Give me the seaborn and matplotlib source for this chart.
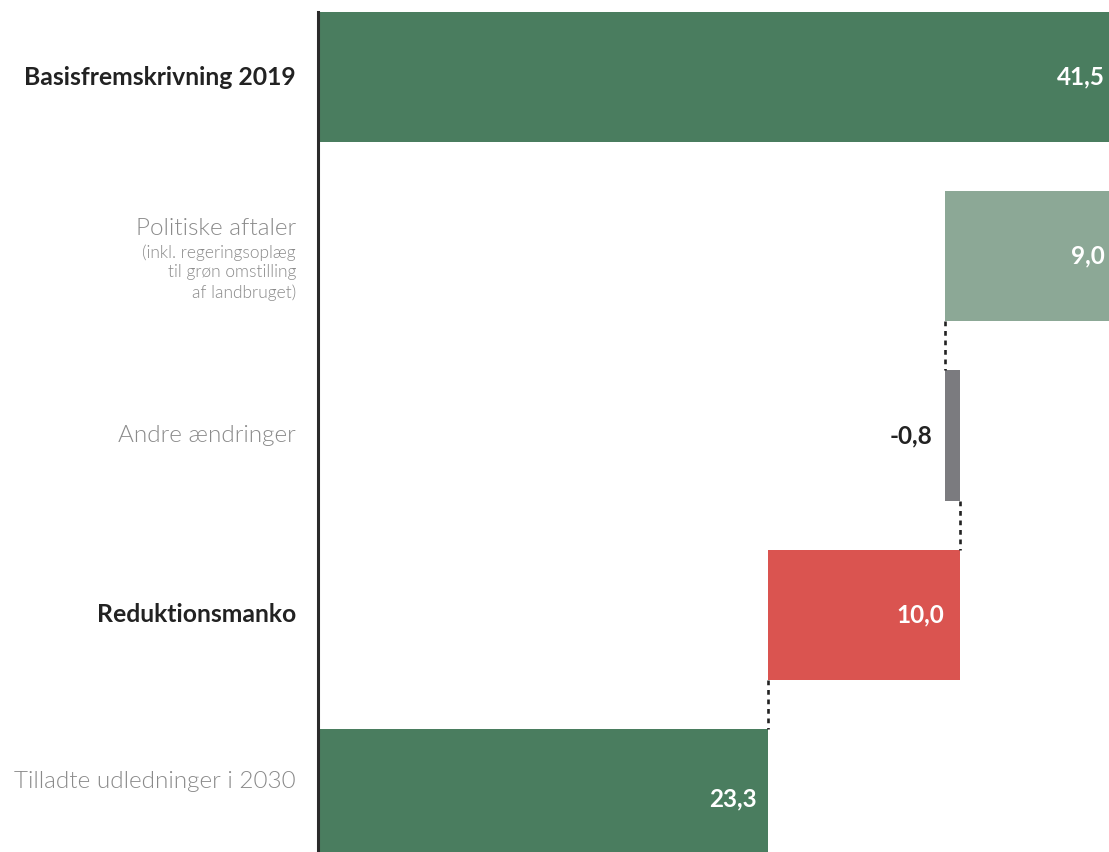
import matplotlib
matplotlib.use("Agg")
import matplotlib.pyplot as plt
import matplotlib.transforms as mtransforms
import seaborn as sns
import pandas as pd

# Waterfall data (Mio. ton CO2e)
categories = ["Basisfremskrivning 2019", "Politiske aftaler", "Andre ændringer",
              "Reduktionsmanko", "Tilladte udledninger i 2030"]
starts = [0.0, 32.5, 32.5, 23.3, 0.0]
ends = [41.5, 41.5, 33.3, 33.3, 23.3]
value_labels = ["41,5", "9,0", "-0,8", "10,0", "23,3"]
colors = ["#4a7d5f", "#8ca896", "#7b7b7f", "#da5450", "#4a7d5f"]

df = pd.DataFrame({"category": categories, "start": starts, "end": ends,
                   "label": value_labels, "color": colors})
df["width"] = df["end"] - df["start"]

sns.set_style("white")
plt.rcParams["font.family"] = ["Lato", "DejaVu Sans"]

fig = plt.figure(figsize=(11.09, 8.52), dpi=100)
ax = fig.add_axes([318 / 1109, 0, 791 / 1109, 840 / 852])

bar_h = 0.726
ypos = list(range(len(df)))
ax.barh(ypos, df["width"], left=df["start"], height=bar_h, color=df["color"], linewidth=0)

# dotted connectors between consecutive bars
conn_x = [None, 32.5, 33.3, 23.3]
for i in range(1, len(conn_x)):
    ax.plot([conn_x[i], conn_x[i]], [i + bar_h / 2, i + 1 - bar_h / 2],
            color="#222222", lw=1.9, linestyle=(0, (1.8, 1.8)), solid_capstyle="butt")

ax.set_xlim(0, 41.0)
ax.set_ylim(4.324, -0.363)
ax.set_xticks([])
ax.set_yticks([])
for s in ["top", "right", "bottom"]:
    ax.spines[s].set_visible(False)
ax.spines["left"].set_color("#2b2b2b")
ax.spines["left"].set_linewidth(2.2)

# value labels
vfs = 17.5
ax.text(40.8, 0, df["label"][0], ha="right", va="center", color="white",
        fontsize=vfs, fontweight="bold")
ax.text(40.8, 1, df["label"][1], ha="right", va="center", color="white",
        fontsize=vfs, fontweight="bold")
ax.text(df["start"][2] - 0.65, 2, df["label"][2], ha="right", va="center",
        color="#222222", fontsize=vfs, fontweight="bold")
ax.text(df["end"][3] - 0.85, 3, df["label"][3], ha="right", va="center", color="white",
        fontsize=vfs, fontweight="bold")
ax.text(df["end"][4] - 0.55, 4.03, df["label"][4], ha="right", va="center", color="white",
        fontsize=vfs, fontweight="bold")

# category labels
trans = mtransforms.blended_transform_factory(ax.transAxes, ax.transData)
lx = -22 / 791
grey = "#8a8a8a"
ax.text(lx, 0, categories[0], transform=trans, ha="right", va="center",
        fontsize=17.8, fontweight="bold", color="#222222")
ax.text(lx, 0.844, categories[1], transform=trans, ha="right", va="center",
        fontsize=17.5, fontweight=300, color=grey)
ax.text(lx, 1.09, "(inkl. regeringsoplæg\ntil grøn omstilling\naf landbruget)", transform=trans,
        ha="right", va="center", fontsize=12.5, fontweight=300, color=grey,
        linespacing=1.28)
ax.text(lx, 2, categories[2], transform=trans, ha="right", va="center",
        fontsize=17.5, fontweight=300, color=grey)
ax.text(lx, 3, categories[3], transform=trans, ha="right", va="center",
        fontsize=17.8, fontweight="bold", color="#222222")
ax.text(lx, 3.93, categories[4], transform=trans, ha="right", va="center",
        fontsize=17.5, fontweight=300, color=grey)

fig.savefig("out.png", dpi=100)
